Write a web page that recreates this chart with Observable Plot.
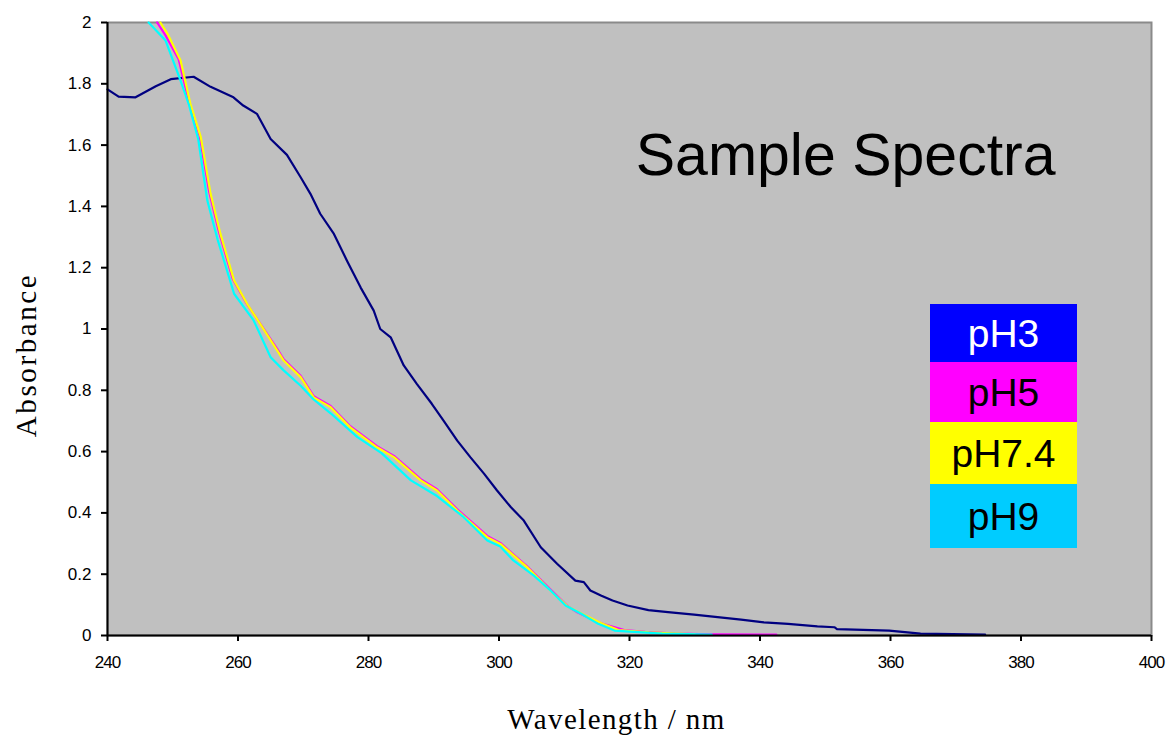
<!DOCTYPE html>
<html>
<head>
<meta charset="utf-8">
<script src="https://cdn.jsdelivr.net/npm/d3@7"></script>
<script src="https://cdn.jsdelivr.net/npm/@observablehq/plot@0.6"></script>
<style>
  html, body { margin: 0; padding: 0; background: #ffffff; }
  #wrap { position: relative; width: 1166px; height: 737px; overflow: hidden; }
  #legend { position: absolute; left: 930px; top: 304px; width: 147px; font-family: "Liberation Sans", Arial, sans-serif; }
  #legend div { display: flex; align-items: center; justify-content: center; font-size: 39px; line-height: 1; }
</style>
</head>
<body>
<div id="wrap"></div>
<script>
// ---- data ----
const seriesNames = ["pH3", "pH5", "pH7.4", "pH9"];
const lineColors = ["#000080", "#ff00ff", "#ffff00", "#00ffff"];
const legendColors = ["#0000ff", "#ff00ff", "#ffff00", "#00ccff"];
const legendTextColors = ["#ffffff", "#000000", "#000000", "#000000"];
const xTicks = [240, 260, 280, 300, 320, 340, 360, 380, 400];
const yTicks = [0, 0.2, 0.4, 0.6, 0.8, 1, 1.2, 1.4, 1.6, 1.8, 2];
const chartTitle = "Sample Spectra";
const xLabel = "Wavelength / nm";
const yLabel = "Absorbance";

// [wavelength nm, absorbance]
const pH3 = [
  [240, 1.782], [241.7, 1.758], [244.3, 1.756], [247.4, 1.792], [249.7, 1.815],
  [253.2, 1.823], [255.8, 1.79], [259.3, 1.756], [260.8, 1.729], [262.9, 1.702],
  [265, 1.62], [267.5, 1.568], [269.6, 1.495], [271.1, 1.441], [272.6, 1.376],
  [274.7, 1.31], [276.7, 1.223], [278.8, 1.135], [280.8, 1.06], [281.8, 1.0],
  [283.4, 0.973], [285.4, 0.881], [287.4, 0.821], [289.7, 0.756], [291.5, 0.701],
  [293.6, 0.636], [295.6, 0.582], [297.7, 0.528], [299.7, 0.473], [301.8, 0.419],
  [303.8, 0.375], [306.4, 0.288], [308.9, 0.234], [311.7, 0.179], [313, 0.174],
  [314, 0.147], [315.7, 0.13], [317.4, 0.114], [319.7, 0.098], [322.9, 0.083],
  [325.9, 0.076], [329.9, 0.068], [333.5, 0.06], [337.1, 0.052], [340.6, 0.043],
  [344.3, 0.038], [348.8, 0.03], [351.4, 0.027], [351.8, 0.021], [359.8, 0.016],
  [364.6, 0.006], [374.5, 0.003]
];
const pH5 = [
  [247.6, 2.0], [248.9, 1.958], [250.9, 1.88], [252.5, 1.74], [254.1, 1.632],
  [255.6, 1.446], [257.1, 1.316], [259.2, 1.163], [261.2, 1.087], [263.3, 1.021],
  [266, 0.935], [267, 0.901], [269.6, 0.847], [271.6, 0.781], [274.2, 0.749],
  [277.2, 0.683], [281.3, 0.618], [283.9, 0.586], [288, 0.51], [290.5, 0.477],
  [293.6, 0.412], [298.2, 0.325], [300.2, 0.302], [304.3, 0.226], [308.4, 0.139],
  [310.5, 0.096], [312, 0.076], [315.5, 0.041], [319.2, 0.018], [322.4, 0.012],
  [327, 0.006], [332.6, 0.004], [342.5, 0.003]
];
const pH74 = [
  [248.1, 2.0], [249.2, 1.963], [251.2, 1.876], [252.7, 1.735], [254.3, 1.626],
  [255.8, 1.441], [257.3, 1.311], [259.4, 1.158], [261.4, 1.082], [263.4, 1.017],
  [266, 0.93], [267, 0.897], [269.6, 0.843], [271.6, 0.777], [274.2, 0.745],
  [277.2, 0.679], [281.3, 0.614], [283.9, 0.582], [288, 0.506], [290.5, 0.473],
  [293.6, 0.408], [298.2, 0.321], [300.2, 0.299], [304.3, 0.223], [308.4, 0.136],
  [310.5, 0.095], [313, 0.068], [315.7, 0.04], [318.3, 0.018], [323, 0.01],
  [330, 0.004]
];
const pH9 = [
  [246.3, 2.0], [248.9, 1.941], [251.2, 1.81], [252.5, 1.73], [253.9, 1.62],
  [255.3, 1.419], [256.9, 1.29], [259.4, 1.115], [262.4, 1.028], [265, 0.908],
  [267, 0.865], [269.6, 0.815], [271.6, 0.77], [274.2, 0.725], [278.3, 0.647],
  [282, 0.595], [286.5, 0.506], [290.5, 0.455], [294.6, 0.386], [298.2, 0.31],
  [300.2, 0.29], [302.2, 0.245], [305.3, 0.196], [307.9, 0.147], [310.2, 0.098],
  [312.6, 0.071], [315.2, 0.038], [317.7, 0.016], [321.3, 0.011], [325, 0.006],
  [332.6, 0.003]
];
const seriesData = [pH3, pH5, pH74, pH9];

// ---- build table ----
const rows = [];
seriesNames.forEach((name, i) => {
  seriesData[i].forEach(([nm, a]) => rows.push({ series: name, nm, abs: a }));
});

const serif = "'Liberation Serif', 'Times New Roman', serif";
const sans = "'Liberation Sans', Arial, sans-serif";

const chart = Plot.plot({
  width: 1166,
  height: 737,
  marginLeft: 107,
  marginRight: 15,
  marginTop: 22,
  marginBottom: 102,
  style: { background: "#ffffff", overflow: "visible" },
  x: { domain: [240, 400] },
  y: { domain: [0, 2] },
  color: { domain: seriesNames, range: lineColors },
  marks: [
    Plot.frame({ fill: "#c0c0c0", stroke: "#8a8a8a", strokeWidth: 2 }),
    Plot.line(rows, { x: "nm", y: "abs", z: "series", stroke: "series", strokeWidth: 2.2, curve: "linear" }),
    Plot.ruleX([240], { stroke: "#000000", strokeWidth: 2 }),
    Plot.ruleY([0], { stroke: "#000000", strokeWidth: 2 }),
    Plot.axisY({
      ticks: yTicks, tickSize: 6, tickPadding: 10, strokeWidth: 2,
      tickFormat: d => String(+d.toFixed(1)),
      fontSize: 17, fontFamily: sans, fill: "#000000", label: null
    }),
    Plot.axisX({
      ticks: xTicks, tickSize: 6, tickPadding: 14, strokeWidth: 2,
      tickFormat: d => String(d),
      fontSize: 17, fontFamily: sans, fill: "#000000", label: null
    }),
    Plot.text([xLabel], {
      frameAnchor: "bottom", dx: -13, dy: 93, fontSize: 29, fontFamily: serif, fill: "#000000"
    }),
    Plot.text([yLabel], {
      frameAnchor: "left", textAnchor: "middle", dx: -81, dy: 26, rotate: -90,
      fontSize: 29, fontFamily: serif, fill: "#000000"
    }),
    Plot.text([chartTitle], {
      frameAnchor: "top-right", textAnchor: "end", dx: -96, dy: 111,
      fontSize: 59, fontFamily: sans, fill: "#000000"
    })
  ]
});

// letter spacing tweaks (the reference uses wider serif titles and condensed tick digits)
chart.querySelectorAll("text").forEach(t => {
  const s = t.textContent;
  if (s === xLabel) t.setAttribute("letter-spacing", "1.4px");
  else if (s === yLabel) t.setAttribute("letter-spacing", "2.6px");
});
chart.querySelectorAll('g[aria-label="x-axis tick label"] text').forEach(t => {
  t.setAttribute("letter-spacing", "-1px");
});

const wrap = document.getElementById("wrap");
wrap.appendChild(chart);

// legend overlay inside the plot area
const legend = document.createElement("div");
legend.id = "legend";
const rowHeights = [58, 60, 62, 64];
seriesNames.forEach((name, i) => {
  const d = document.createElement("div");
  d.textContent = name;
  d.style.background = legendColors[i];
  d.style.color = legendTextColors[i];
  d.style.height = rowHeights[i] + "px";
  legend.appendChild(d);
});
wrap.appendChild(legend);
</script>
</body>
</html>
